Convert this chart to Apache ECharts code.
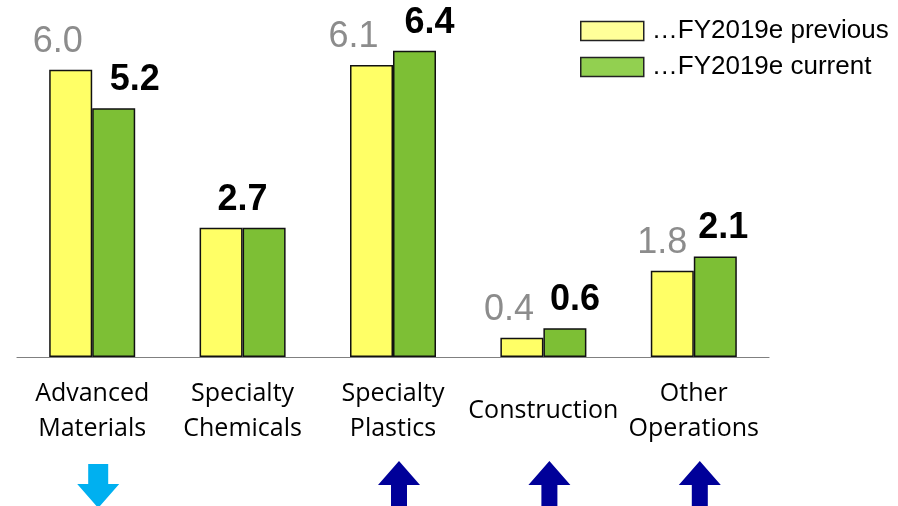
<!DOCTYPE html>
<html>
<head>
<meta charset="utf-8">
<title>FY2019e outlook by segment</title>
<script src="https://cdn.jsdelivr.net/npm/echarts@6/dist/echarts.min.js"></script>
<style>
  html, body { margin: 0; padding: 0; background: #ffffff; }
  #chart { width: 898px; height: 506px; }
</style>
</head>
<body>
<div id="chart"></div>
<script>
// Segment names shown under the axis
const categories = ['Advanced\nMaterials', 'Specialty\nChemicals', 'Specialty\nPlastics', 'Construction', 'Other\nOperations'];
// Series names
const seriesNames = ['…FY2019e previous', '…FY2019e current'];
// EBIT estimate per segment
const previousValues = [6.0, 2.7, 6.1, 0.4, 1.8];
const currentValues = [5.2, 2.7, 6.4, 0.6, 2.1];
// Direction of the revision: -1 down, 0 unchanged, 1 up
const revisionDirection = [-1, 0, 1, 1, 1];

// Horizontal nudges for the value labels (px)
const previousLabelNudge = [-13, 0, -18, -13, -10];
const currentLabelNudge = [21, 0, 15, 10, 8];

const BAR_W = 43;
const LABEL_FONT = '"Liberation Sans", Arial, sans-serif';

const ARROW_UP = 'path://M21 0 L42 24 L29 24 L29 50 L13 50 L13 24 L0 24 Z';
const ARROW_DOWN = 'path://M11 0 L31 0 L31 20 L42 20 L21 44 L0 20 L11 20 Z';

function fmt(v) { return v.toFixed(1); }

const previousData = previousValues.map((v, i) => {
  const same = v === currentValues[i];
  return {
    value: v,
    label: { show: !same, offset: [previousLabelNudge[i], 0] }
  };
});

const currentData = currentValues.map((v, i) => {
  const same = v === previousValues[i];
  // when both estimates agree, one label sits over the middle of the pair
  return {
    value: v,
    label: { offset: [same ? -BAR_W / 2 : currentLabelNudge[i], 0] }
  };
});

const arrowData = revisionDirection.map((d, i) => {
  if (d === 0) return { value: [i, 0.5], symbolSize: 0, itemStyle: { opacity: 0 } };
  return {
    value: [i, 0.5],
    symbol: d > 0 ? ARROW_UP : ARROW_DOWN,
    symbolSize: d > 0 ? [42, 50] : [42, 44],
    itemStyle: { color: d > 0 ? '#000099' : '#00B0F0', opacity: 1 }
  };
});

const chart = echarts.init(document.getElementById('chart'), null, { renderer: 'canvas' });

chart.setOption({
  animation: false,
  backgroundColor: '#ffffff',
  legend: {
    orient: 'vertical',
    left: 575,
    top: 13,
    itemWidth: 63,
    itemHeight: 19,
    itemGap: 10,
    icon: 'rect',
    selectedMode: false,
    textStyle: {
      fontFamily: LABEL_FONT,
      fontSize: 26,
      lineHeight: 19,
      color: '#000000',
      padding: [0, 0, 0, 3]
    },
    data: [
      { name: seriesNames[0], itemStyle: { color: '#FFFF99', borderColor: '#222222', borderWidth: 1.5 } },
      { name: seriesNames[1], itemStyle: { color: '#92D050', borderColor: '#222222', borderWidth: 1.5 } }
    ]
  },
  grid: [
    { left: 17, right: 129, top: 22, bottom: 149 },
    { left: 17, right: 129, top: 466, height: 40 }
  ],
  xAxis: [
    {
      type: 'category',
      gridIndex: 0,
      data: categories,
      axisLine: { show: true, lineStyle: { color: '#808080', width: 1.2 } },
      axisTick: { show: false },
      splitLine: { show: false },
      axisLabel: {
        interval: 0,
        margin: 54,
        verticalAlign: 'middle',
        fontFamily: '"Open Sans", sans-serif',
        fontSize: 25,
        lineHeight: 35,
        color: '#000000'
      }
    },
    {
      type: 'category',
      gridIndex: 1,
      data: categories,
      show: false
    }
  ],
  yAxis: [
    {
      type: 'value',
      gridIndex: 0,
      min: 0,
      max: 7,
      show: false,
      splitLine: { show: false }
    },
    {
      type: 'value',
      gridIndex: 1,
      min: 0,
      max: 1,
      show: false
    }
  ],
  series: [
    {
      name: seriesNames[0],
      type: 'bar',
      xAxisIndex: 0,
      yAxisIndex: 0,
      barWidth: BAR_W,
      barGap: '0%',
      itemStyle: { color: '#FFFF66', borderColor: '#111111', borderWidth: 1.5 },
      label: {
        show: true,
        position: 'top',
        distance: 10,
        formatter: p => fmt(p.value),
        fontFamily: LABEL_FONT,
        fontSize: 36,
        lineHeight: 36,
        color: '#8C8C8C'
      },
      data: previousData
    },
    {
      name: seriesNames[1],
      type: 'bar',
      xAxisIndex: 0,
      yAxisIndex: 0,
      barWidth: BAR_W,
      barGap: '0%',
      itemStyle: { color: '#7DBF35', borderColor: '#111111', borderWidth: 1.5 },
      label: {
        show: true,
        position: 'top',
        distance: 10,
        formatter: p => fmt(p.value),
        fontFamily: LABEL_FONT,
        fontSize: 36,
        lineHeight: 36,
        fontWeight: 'bold',
        color: '#000000'
      },
      data: currentData
    },
    {
      name: 'revision',
      type: 'scatter',
      xAxisIndex: 1,
      yAxisIndex: 1,
      symbolOffset: [6, 0],
      silent: true,
      data: arrowData
    }
  ]
});
</script>
</body>
</html>
